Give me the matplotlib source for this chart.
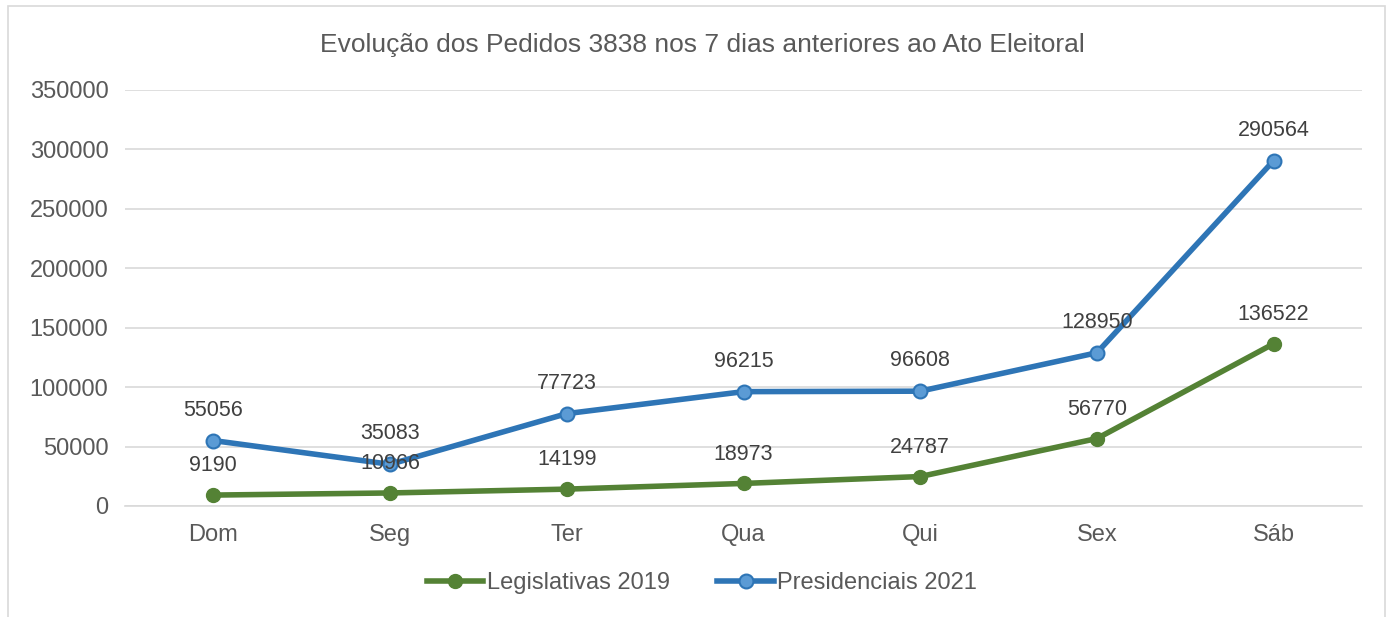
import matplotlib
matplotlib.use("Agg")
import matplotlib.pyplot as plt
from matplotlib.patches import Rectangle

plt.rcParams['font.family'] = ['Liberation Sans', 'DejaVu Sans']

categories = ["Dom", "Seg", "Ter", "Qua", "Qui", "Sex", "Sáb"]
legislativas_2019 = [9190, 10966, 14199, 18973, 24787, 56770, 136522]
presidenciais_2021 = [55056, 35083, 77723, 96215, 96608, 128950, 290564]
yticks = [0, 50000, 100000, 150000, 200000, 250000, 300000, 350000]
title = "Evolução dos Pedidos 3838 nos 7 dias anteriores ao Ato Eleitoral"

W, H = 1394, 617
fig = plt.figure(figsize=(W / 100, H / 100), dpi=100)
fig.patches.append(Rectangle((8 / W, -0.05), (1385 - 8) / W, (H - 6) / H + 0.05,
                             transform=fig.transFigure, fill=False,
                             edgecolor="#D9D9D9", linewidth=1.2))

ax = fig.add_axes([125 / W, (H - 506) / H, (1362 - 125) / W, (506 - 90) / H])
x = list(range(len(categories)))

text_c = "#595959"
green = "#548235"
blue = "#2E75B6"
blue_fill = "#5B9BD5"

ax.plot(x, legislativas_2019, color=green, lw=4, marker="o", ms=10,
        mfc=green, mec=green, label="Legislativas 2019", zorder=3)
ax.plot(x, presidenciais_2021, color=blue, lw=4, marker="o", ms=10,
        mfc=blue_fill, mec=blue, mew=1.5, label="Presidenciais 2021", zorder=3)

for xi, v in zip(x, legislativas_2019):
    ax.annotate(str(v), (xi, v), xytext=(0, 21), textcoords="offset points",
                ha="center", va="center", fontsize=15.5, color="#404040", zorder=5)
for xi, v in zip(x, presidenciais_2021):
    ax.annotate(str(v), (xi, v), xytext=(0, 22), textcoords="offset points",
                ha="center", va="center", fontsize=15.5, color="#404040", zorder=5)

ax.set_xlim(-0.5, len(categories) - 0.5)
ax.set_ylim(0, 350000)
ax.set_yticks(yticks)
ax.set_yticklabels([str(t) for t in yticks])
ax.set_xticks(x)
ax.set_xticklabels(categories)
ax.tick_params(axis="both", length=0, labelsize=17, colors=text_c)
ax.tick_params(axis="x", pad=13)
ax.tick_params(axis="y", pad=12)
ax.grid(axis="y", color="#D9D9D9", lw=1.2)
ax.set_axisbelow(True)
for s in ax.spines.values():
    s.set_visible(False)
ax.spines["bottom"].set_visible(True)
ax.spines["bottom"].set_color("#D9D9D9")
ax.spines["bottom"].set_linewidth(1.2)

fig.text(702 / W, 1 - 45 / H, title, ha="center", va="center", fontsize=19, color=text_c)

fig.legend(loc="center", bbox_to_anchor=(702 / W, 1 - 583 / H), ncol=2, frameon=False,
           fontsize=17, labelcolor=text_c, handlelength=2.4, handletextpad=0.15,
           columnspacing=2.0)

fig.savefig("out.png", dpi=100)
